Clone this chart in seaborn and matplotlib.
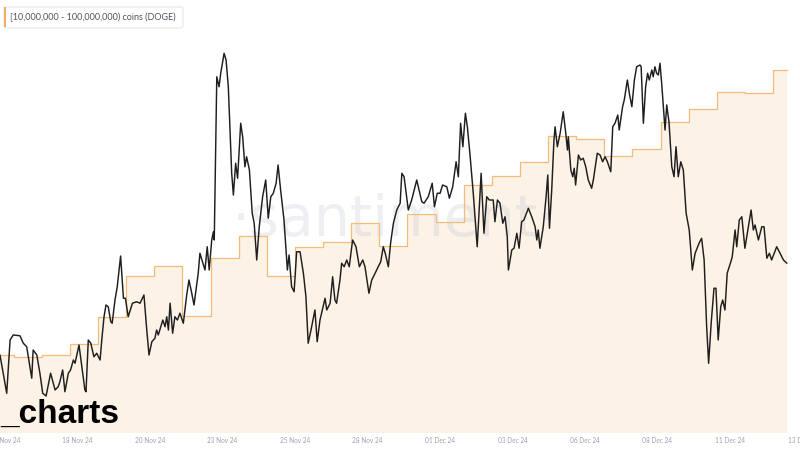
import matplotlib
matplotlib.use("Agg")
import matplotlib.pyplot as plt
import seaborn as sns
import pandas as pd
from matplotlib.patches import Rectangle, FancyBboxPatch

# ---------------- data ----------------
series_label = "[10,000,000 - 100,000,000) coins (DOGE)"
watermark = "\u00b7santiment\u00b7"
brand = "_charts"

tick_labels = ["15 Nov 24", "18 Nov 24", "20 Nov 24", "23 Nov 24", "25 Nov 24", "28 Nov 24",
               "01 Dec 24", "03 Dec 24", "06 Dec 24", "08 Dec 24", "11 Dec 24", "13 Dec 24"]
# tick positions, days since 18 Nov 2024 00:00
tick_days = [-2.31, 0.27, 2.85, 5.42, 8.00, 10.58, 13.16, 15.74, 18.31, 20.89, 23.47, 26.05]

# daily holdings of the 10M-100M DOGE cohort (billion DOGE), 15 Nov .. 13 Dec
holding_days = list(range(-3, 26))
holdings_bn = [22.78, 22.76, 22.78, 22.89, 23.16, 23.57, 23.67, 23.17, 23.75, 23.97,
               23.57, 23.86, 23.91, 24.10, 23.87, 24.19, 24.11, 24.48, 24.57, 24.71,
               24.97, 24.94, 24.77, 24.84, 25.11, 25.24, 25.41, 25.40, 25.63]

# DOGE price (USD), days since 18 Nov 2024 00:00
price_days = [
    -2.49, -2.25, -2.13, -2.02, -1.78, -1.66, -1.54, -1.36, -1.31, -1.18,
    -1.07, -0.97, -0.85, -0.69, -0.53, -0.42, -0.36, -0.26, -0.18, -0.06,
    0.02, 0.12, 0.18, 0.32, 0.39, 0.53, 0.57, 0.65, 0.74, 0.85,
    0.95, 1.07, 1.13, 1.21, 1.28, 1.36, 1.45, 1.50, 1.60, 1.68,
    1.80, 1.90, 1.97, 2.07, 2.22, 2.37, 2.49, 2.63, 2.73, 2.81,
    2.91, 3.02, 3.08, 3.14, 3.30, 3.38, 3.44, 3.50, 3.56, 3.65,
    3.73, 3.82, 3.91, 4.03, 4.15, 4.23, 4.33, 4.41, 4.56, 4.62,
    4.80, 4.88, 4.95, 5.04, 5.10, 5.13, 5.22, 5.30, 5.36, 5.48,
    5.55, 5.63, 5.75, 5.81, 5.89, 5.96, 6.07, 6.14, 6.22, 6.28,
    6.38, 6.48, 6.55, 6.64, 6.73, 6.85, 6.96, 7.05, 7.14, 7.23,
    7.33, 7.40, 7.49, 7.61, 7.73, 7.79, 7.88, 7.97, 8.06, 8.18,
    8.30, 8.39, 8.47, 8.57, 8.71, 8.79, 8.89, 9.07, 9.13, 9.25,
    9.34, 9.42, 9.48, 9.60, 9.66, 9.75, 9.84, 9.93, 10.05, 10.17,
    10.29, 10.41, 10.49, 10.63, 10.73, 10.85, 10.96, 11.05, 11.14, 11.21,
    11.32, 11.40, 11.50, 11.62, 11.74, 11.80, 11.88, 12.03, 12.15, 12.33,
    12.51, 12.59, 12.74, 12.88, 12.96, 13.06, 13.16, 13.25, 13.40, 13.49,
    13.61, 13.73, 13.81, 13.89, 13.97, 14.06, 14.13, 14.22, 14.34, 14.48,
    14.62, 14.72, 14.82, 14.91, 15.05, 15.11, 15.20, 15.29, 15.39, 15.47,
    15.55, 15.59, 15.71, 15.79, 15.89, 15.97, 16.06, 16.14, 16.30, 16.42,
    16.54, 16.60, 16.65, 16.71, 16.83, 16.93, 16.99, 17.05, 17.13, 17.21,
    17.25, 17.33, 17.43, 17.54, 17.63, 17.69, 17.72, 17.81, 17.88, 17.93,
    17.98, 18.08, 18.16, 18.25, 18.34, 18.43, 18.55, 18.61, 18.75, 18.85,
    18.94, 19.03, 19.11, 19.23, 19.30, 19.38, 19.48, 19.53, 19.65, 19.71,
    19.82, 19.89, 19.98, 20.07, 20.15, 20.27, 20.31, 20.39, 20.47, 20.54,
    20.60, 20.69, 20.74, 20.80, 20.86, 20.92, 20.98, 21.04, 21.10, 21.16,
    21.22, 21.30, 21.40, 21.48, 21.55, 21.63, 21.72, 21.81, 21.91, 22.02,
    22.13, 22.23, 22.37, 22.46, 22.55, 22.64, 22.71, 22.80, 22.90, 22.97,
    23.05, 23.14, 23.21, 23.29, 23.37, 23.50, 23.55, 23.65, 23.71, 23.80,
    23.89, 24.00, 24.22, 24.30, 24.36, 24.48, 24.60, 24.68, 24.78, 24.87,
    24.95, 25.13, 25.25, 25.37, 25.49]
price_usd = [
    0.3512, 0.3359, 0.3572, 0.3592, 0.3589, 0.3559, 0.3545, 0.3419, 0.3532, 0.3512,
    0.3439, 0.3359, 0.3348, 0.3439, 0.3372, 0.3385, 0.3405, 0.3452, 0.3365, 0.3439,
    0.3452, 0.3492, 0.3479, 0.3552, 0.3492, 0.3372, 0.3365, 0.3572, 0.3559, 0.3505,
    0.3519, 0.3492, 0.3572, 0.3665, 0.3712, 0.3705, 0.3645, 0.3639, 0.3732, 0.3785,
    0.3908, 0.3739, 0.3739, 0.3665, 0.3719, 0.3725, 0.3719, 0.3752, 0.3612, 0.3512,
    0.3565, 0.3579, 0.3612, 0.3592, 0.3652, 0.3625, 0.3665, 0.3612, 0.3719, 0.3599,
    0.3665, 0.3652, 0.3679, 0.3639, 0.3752, 0.3812, 0.3759, 0.3712, 0.3839, 0.3919,
    0.3852, 0.3945, 0.3852, 0.3972, 0.4005, 0.3972, 0.4625, 0.4585, 0.4639, 0.4719,
    0.4692, 0.4585, 0.4239, 0.4152, 0.4279, 0.4219, 0.4439, 0.4385, 0.4265, 0.4305,
    0.4252, 0.4079, 0.4039, 0.3892, 0.4025, 0.4145, 0.4212, 0.4059, 0.4145, 0.4159,
    0.4199, 0.4272, 0.4172, 0.4052, 0.3852, 0.3912, 0.3785, 0.3765, 0.3925, 0.3925,
    0.3839, 0.3745, 0.3559, 0.3612, 0.3692, 0.3565, 0.3652, 0.3739, 0.3692, 0.3719,
    0.3825, 0.3732, 0.3719, 0.3812, 0.3879, 0.3865, 0.3892, 0.3865, 0.3972, 0.3945,
    0.3865, 0.3892, 0.3865, 0.3759, 0.3812, 0.3839, 0.3865, 0.3885, 0.3945, 0.3919,
    0.3865, 0.3959, 0.4039, 0.4092, 0.4119, 0.4239, 0.4225, 0.4092, 0.4132, 0.4212,
    0.4125, 0.4119, 0.4145, 0.4199, 0.4105, 0.4159, 0.4159, 0.4192, 0.4185, 0.4139,
    0.4185, 0.4285, 0.4225, 0.4439, 0.4345, 0.4479, 0.4425, 0.4319, 0.4159, 0.3945,
    0.4239, 0.3999, 0.4145, 0.4132, 0.4132, 0.4045, 0.4132, 0.4119, 0.4039, 0.4065,
    0.3985, 0.3852, 0.3932, 0.3939, 0.3999, 0.3939, 0.4045, 0.4052, 0.4099, 0.4065,
    0.4025, 0.3972, 0.4012, 0.3939, 0.4025, 0.4145, 0.4232, 0.4019, 0.4172, 0.4372,
    0.4425, 0.4345, 0.4399, 0.4485, 0.4399, 0.4332, 0.4385, 0.4252, 0.4225, 0.4259,
    0.4192, 0.4312, 0.4292, 0.4299, 0.4265, 0.4212, 0.4179, 0.4212, 0.4319, 0.4312,
    0.4285, 0.4305, 0.4285, 0.4245, 0.4425, 0.4439, 0.4472, 0.4412, 0.4505, 0.4532,
    0.4612, 0.4559, 0.4505, 0.4612, 0.4665, 0.4672, 0.4665, 0.4439, 0.4585, 0.4639,
    0.4612, 0.4652, 0.4625, 0.4665, 0.4639, 0.4632, 0.4679, 0.4599, 0.4505, 0.4412,
    0.4512, 0.4445, 0.4265, 0.4225, 0.4345, 0.4225, 0.4285, 0.4252, 0.4079, 0.4012,
    0.3852, 0.3919, 0.3959, 0.3979, 0.3892, 0.3625, 0.3479, 0.3639, 0.3779, 0.3779,
    0.3572, 0.3705, 0.3732, 0.3692, 0.3839, 0.3885, 0.3905, 0.4012, 0.3945, 0.4052,
    0.4065, 0.3939, 0.4092, 0.4012, 0.4032, 0.3972, 0.4025, 0.4025, 0.3899, 0.3919,
    0.3892, 0.3945, 0.3919, 0.3892, 0.3879]

# ---------------- styling ----------------
ORANGE = "#f2bc7b"
FILL = "#fcf2e6"
TICK_GRAY = "#9ea3ab"

sns.set_theme(style="white")
plt.rcParams["font.family"] = ["Lato", "DejaVu Sans"]

fig = plt.figure(figsize=(8, 4.5), dpi=100)
fig.patch.set_facecolor("white")
ax = fig.add_axes([0.0, 0.0378, 1.0155, 0.8844])
ax.set_facecolor("white")
ax2 = ax.twinx()

# holdings: step line with area fill, extended to the last timestamp
hx = holding_days + [price_days[-1]]
hy = holdings_bn + [holdings_bn[-1]]
dfh = pd.DataFrame({"day": hx, "holdings": hy})
ax.fill_between(dfh["day"], dfh["holdings"], 21.0, step="post",
                color=FILL, linewidth=0, zorder=1)
sns.lineplot(data=dfh, x="day", y="holdings", ax=ax, drawstyle="steps-post",
             color=ORANGE, linewidth=0.9, zorder=3)

# price line
dfp = pd.DataFrame({"day": price_days, "price": price_usd})
sns.lineplot(data=dfp, x="day", y="price", ax=ax2, color="#1e1e1e",
             linewidth=1.05, estimator=None, sort=False, zorder=4)

ax.set_xlim(-2.489, 26.4)
ax.set_ylim(22.0, 25.98)
ax2.set_ylim(0.32, 0.4792)

ax.set_xticks(tick_days)
ax.set_xticklabels(tick_labels, fontsize=4.7, color=TICK_GRAY)
ax.tick_params(axis="x", length=0, pad=3)
ax.set_yticks([])
ax2.set_yticks([])
for a in (ax, ax2):
    a.set_xlabel("")
    a.set_ylabel("")
    for s in a.spines.values():
        s.set_visible(False)
    a.grid(False)

# watermark
ax.text(0.485, 0.495, watermark, transform=ax.transAxes, ha="center", va="baseline",
        fontsize=41, color="#b8c0d0", alpha=0.25, family=["DejaVu Sans"],
        fontweight="normal", zorder=2)

# legend chip
fig.add_artist(FancyBboxPatch((4 / 800, 1 - 28 / 450), 179 / 800, 21 / 450,
                              boxstyle="round,pad=0,rounding_size=0.004",
                              transform=fig.transFigure, facecolor="white",
                              edgecolor="#e6e7ea", linewidth=0.8, zorder=5))
fig.add_artist(Rectangle((3.5 / 800, 1 - 27 / 450), 2.5 / 800, 20 / 450,
                         transform=fig.transFigure, facecolor="#f0b060",
                         edgecolor="none", zorder=6))
fig.text(9.5 / 800, 1 - 17.5 / 450, series_label, fontsize=6.5, color="#4f535a",
         ha="left", va="center", zorder=7)

# brand overlay
fig.text(0.0, 27 / 450, brand, fontsize=24, fontweight="bold",
         family=["Liberation Sans", "DejaVu Sans"], color="black",
         ha="left", va="baseline", zorder=8)

fig.savefig("out.png", dpi=100)
